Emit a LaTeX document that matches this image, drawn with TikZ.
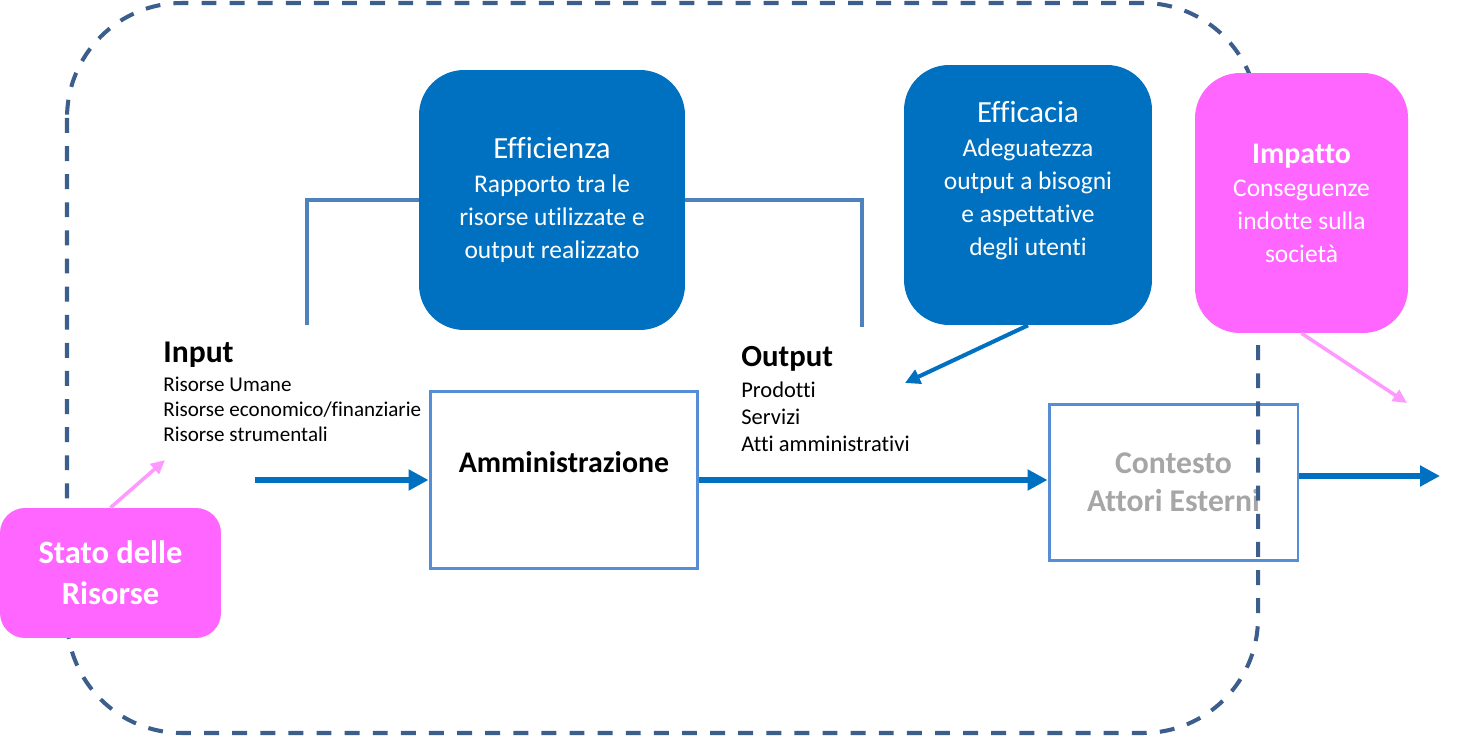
\documentclass[tikz,border=0pt]{standalone}
\usepackage{fontspec}
\setmainfont{Carlito}[Ligatures=NoCommon]
\usetikzlibrary{arrows.meta}
\definecolor{effblue}{HTML}{0070C0}
\definecolor{dashblue}{HTML}{3B5E8C}
\definecolor{frameblue}{HTML}{558ED5}
\definecolor{brackblue}{HTML}{4F81BD}
\definecolor{pinkfill}{HTML}{FF66FF}
\definecolor{pinkline}{HTML}{FF99FF}
\definecolor{greytext}{HTML}{A6A6A6}

\begin{document}
\begin{tikzpicture}[x=0.02cm, y=-0.02cm,
  bluebox/.style={fill=effblue, text=white, rounded corners=0.9cm, align=center, inner sep=0pt,
    font=\fontsize{14.5}{18.8}\selectfont},
  pinkbox/.style={fill=pinkfill, text=white, rounded corners=0.9cm, align=center, inner sep=0pt},
  framebox/.style={draw=frameblue, line width=1.7pt, fill=white, align=center, inner sep=0pt},
  bigarrow/.style={draw=effblue, line width=3.4pt, -{Triangle[length=0.4cm,width=0.4cm]}},
  efaarrow/.style={draw=effblue, line width=2.3pt, -{Triangle[length=0.3cm,width=0.3cm]}},
  pinkarrow/.style={draw=pinkline, line width=2pt, -{Triangle[length=0.28cm,width=0.26cm]}}]
\useasboundingbox (0,0) rectangle (1462,736);

\node[bluebox, minimum width=5.32cm, minimum height=5.2cm] (eff) at (552,200)
  {{\fontsize{17.5}{20}\selectfont Efficienza}\\ Rapporto tra le\\ risorse utilizzate e\\ output realizzato};
\coordinate (brl) at (307,325);
\coordinate (brr) at (862,327);
\draw[brackblue, line width=2.3pt] (brl) |- (eff.west);
\draw[brackblue, line width=2.3pt] (eff.east) -| (brr);

\node[bluebox, minimum width=4.96cm, minimum height=5.2cm] (efa) at (1028,195)
  {{\fontsize{17.5}{20}\selectfont Efficacia}\\ Adeguatezza\\ output a bisogni\\ e aspettative\\ degli utenti\\ \mbox{}};

\node[anchor=north west, align=left, inner sep=0pt, font=\fontsize{12}{14.2}\selectfont] (inp) at (163,342)
  {{\fontsize{18}{20}\selectfont\bfseries Input}\\[2pt] Risorse Umane\\ Risorse economico/finanziarie\\ Risorse strumentali};
\node[anchor=north west, align=left, inner sep=0pt, font=\fontsize{12.8}{15.4}\selectfont] (outp) at (741,346)
  {{\fontsize{17.5}{20}\selectfont\bfseries Output}\\[2pt] Prodotti\\ Servizi\\ Atti amministrativi};

\node[framebox, font=\fontsize{17}{21}\selectfont\bfseries, minimum width=5.36cm, minimum height=3.56cm] (amm) at (564,480)
  {Amministrazione\\ \mbox{}};
\node[framebox, text=greytext, font=\fontsize{18}{21.6}\selectfont\bfseries, minimum width=4.98cm, minimum height=3.14cm] (cont) at (1173.5,482.5)
  {Contesto\\ Attori Esterni};

\draw[dashblue, line width=2.3pt, dash pattern=on 8.5pt off 7.5pt, rounded corners=2.3cm]
  (67,3) rectangle (1258,733);

\node[pinkbox, rounded corners=0.5cm, font=\fontsize{18.5}{23.3}\selectfont\bfseries, minimum width=4.42cm, minimum height=2.6cm] (stato) at (110.5,573)
  {Stato delle\\ Risorse};
\node[pinkbox, font=\fontsize{14.5}{18.8}\selectfont, minimum width=4.26cm, minimum height=5.2cm] (imp) at (1301.5,203)
  {{\fontsize{17}{20}\selectfont\bfseries Impatto}\\ Conseguenze\\ indotte sulla\\ società};

\coordinate (inpin) at (255,480);
\coordinate (outend) at (1440,476);
\coordinate (efatip) at (905,383);
\coordinate (statotip) at (165,460);
\coordinate (imptip) at (1407,403);
\draw[bigarrow] (inpin) -- (amm.west);
\draw[bigarrow] (amm.east) -- (amm.east -| cont.west);
\draw[bigarrow] (cont.east |- outend) -- (outend);
\draw[efaarrow] (efa.south) -- (efatip);
\draw[pinkarrow] (stato.north) -- (statotip);
\draw[pinkarrow] (imp.south) -- (imptip);
\end{tikzpicture}
\end{document}
